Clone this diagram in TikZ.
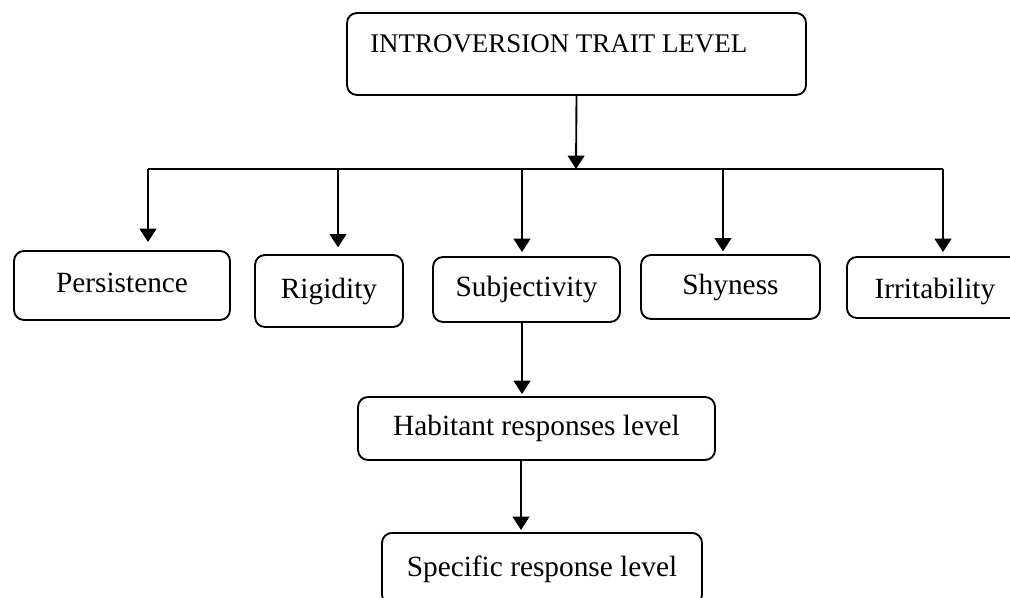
\documentclass[tikz,border=0pt]{standalone}
\usepackage{fontspec}
\setmainfont{Liberation Serif}
\usetikzlibrary{arrows.meta}
\begin{document}
\begin{tikzpicture}[x=0.75pt,y=-0.75pt,
  box/.style={draw, line width=1.4pt, rounded corners=7.5pt, inner sep=0pt,
    font=\fontsize{22}{26}\selectfont},
  arr/.style={line width=1.4pt, -{Triangle[length=10pt,width=12.5pt]}},
  link/.style={line width=1.4pt}]
\useasboundingbox (0,0) rectangle (1010,598);
\clip (0,0) rectangle (1010,598);
\fill[white] (0,0) rectangle (1010,598);

% top level
\node[box, minimum width=459*0.75pt, minimum height=82*0.75pt] (top) at (576.5,54) {};
\node[anchor=base west, inner sep=0pt, font=\fontsize{20.2}{24}\selectfont] (toptext) at (370,53) {INTROVERSION TRAIT LEVEL};

% trait boxes
\node[box, text depth=4.5pt, minimum width=216*0.75pt, minimum height=69*0.75pt] (pers) at (122,285.5) {Persistence};
\node[box, minimum width=148*0.75pt, minimum height=72*0.75pt] (rig) at (329,291) {Rigidity};
\node[box, minimum width=187*0.75pt, minimum height=65*0.75pt] (subj) at (526.5,289.5) {Subjectivity};
\node[box, minimum width=179*0.75pt, minimum height=64*0.75pt] (shy) at (730.5,287) {Shyness};
\node[box, text height=21pt, anchor=west, minimum width=176*0.75pt, minimum height=61*0.75pt] (irr) at (846,287.5) {Irritability};

% lower levels
\node[box, minimum width=357*0.75pt, minimum height=63*0.75pt] (hab) at (536.5,428.5) {Habitant responses level};
\node[box, anchor=north, minimum width=320*0.75pt, minimum height=72*0.75pt] (spec) at (542,532) {Specific response level};

% distribution bus
\coordinate (b1) at (148,169);
\coordinate (b2) at (338,169);
\coordinate (b3) at (522,169);
\coordinate (b4) at (723,169);
\coordinate (b5) at (943,169);
\coordinate (tj) at (576,169);
\coordinate (s1) at (521,0);

\draw[arr] (top.south) -- (tj);
\draw[link] (b1) -- (b5);
\draw[arr, shorten >=6pt] (b1) -- (pers.north -| b1);
\draw[arr, shorten >=5pt] (b2) -- (rig.north -| b2);
\draw[arr, shorten >=3pt] (b3) -- (subj.north -| b3);
\draw[arr, shorten >=2pt] (b4) -- (shy.north -| b4);
\draw[arr, shorten >=3pt] (b5) -- (irr.north -| b5);
\draw[arr, shorten >=1.5pt] (subj.south -| b3) -- (hab.north -| b3);
\draw[arr, shorten >=1.5pt] (hab.south -| s1) -- (spec.north -| s1);
\end{tikzpicture}
\end{document}
